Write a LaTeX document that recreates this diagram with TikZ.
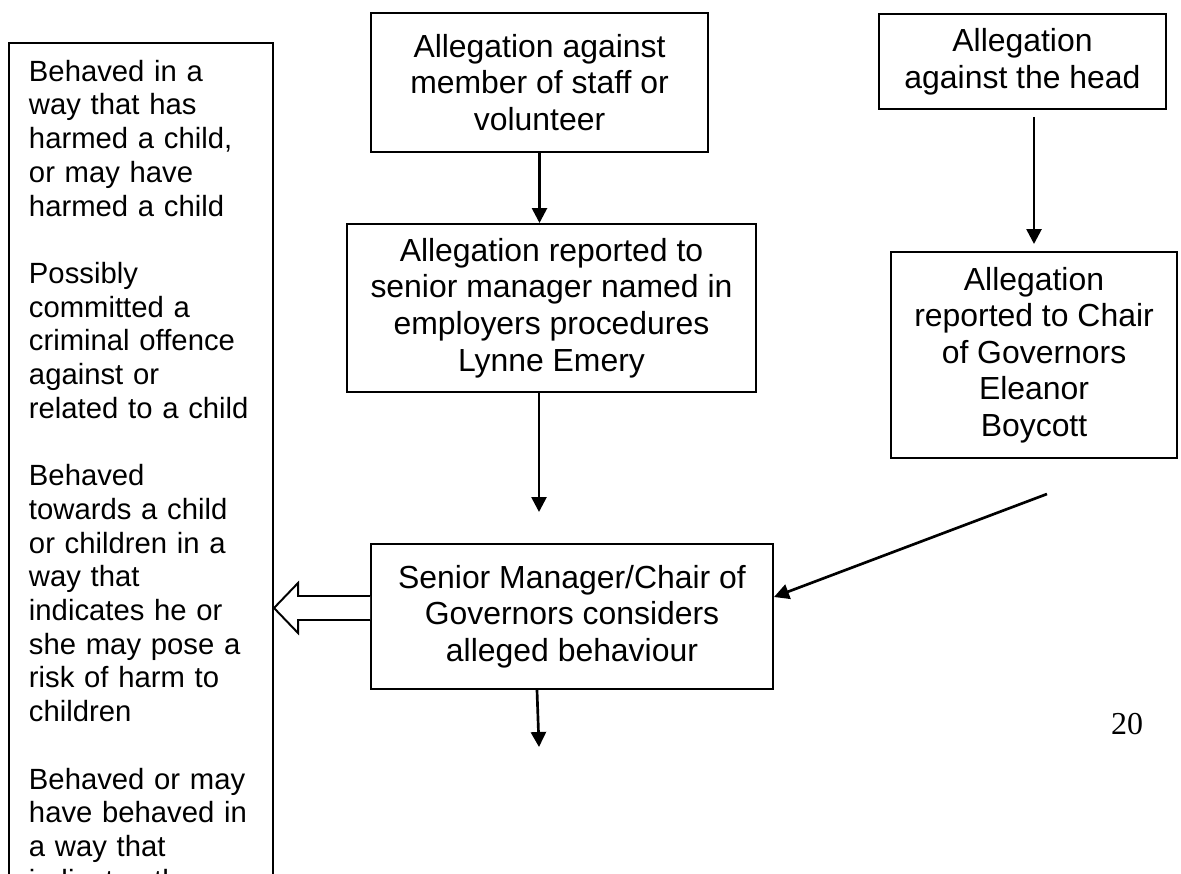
\documentclass[tikz,border=0pt]{standalone}
\usepackage{fontspec}
\setmainfont{Liberation Sans}
\newfontfamily\pageNumFont{Liberation Serif}
\usepackage{tikz}
\usetikzlibrary{math,arrows.meta}

\begin{document}
\begin{tikzpicture}[x=0.025cm, y=-0.025cm]

    \tikzmath{%
        \px=0.025;
    };

    \tikzset{%
        flowBox/.style args={#1/#2}{%
                draw, line width=1.4pt, align=center, inner sep=0pt,
                minimum width=#1*\px*1cm, minimum height=#2*\px*1cm,
                font=\fontsize{22.7}{26}\selectfont
            },
        criteriaBox/.style={%
                draw, line width=1.4pt, anchor=north west, align=left,
                text width=5.6cm, inner xsep=0.5cm, inner ysep=0.425cm,
                font=\fontsize{20.8}{23.97}\selectfont
            },
        flowArrow/.style={%
                line width=1.9pt, -{Triangle[length=0.375cm, width=0.375cm]}
            },
        hollowArrow/.style={line width=1.4pt, line join=miter, fill=white}
    }

    \useasboundingbox (0, 0) rectangle (1181, 873);
    \clip (0, 0) rectangle (1181, 873);

    \node (criteria) [criteriaBox] at (8, 42) {%
        Behaved in a\\ way that has\\ harmed a child,\\ or may have\\ harmed a child\\[\baselineskip]
        Possibly\\ committed a\\ criminal offence\\ against or\\ related to a child\\[\baselineskip]
        Behaved\\ towards a child\\ or children in a\\ way that\\ indicates he or\\ she may pose a\\ risk of harm to\\ children\\[\baselineskip]
        Behaved or may\\ have behaved in\\ a way that\\ indicates they
    };

    \node (allegStaff) [flowBox=337/139] at (539.5, 82.5) {Allegation against\\ member of staff or\\ volunteer};
    \node (allegHead) [flowBox=287/95] at (1022.5, 61.5) {Allegation\\ against the head};
    \node (reportSenior) [flowBox=409/168] at (551.5, 308) {Allegation reported to\\ senior manager named in\\ employers procedures\\ Lynne Emery};
    \node (reportChair) [flowBox=286/206] at (1034, 355) {Allegation\\ reported to Chair\\ of Governors\\ Eleanor\\ Boycott};
    \node (considers) [flowBox=402/145] at (572, 616.5) {Senior Manager/Chair of\\ Governors considers\\ alleged behaviour};
    \node (pageNum) [anchor=base, font=\pageNumFont\fontsize{22.7}{26}\selectfont] at (1127, 734) {20};

    \coordinate (seniorOut) at (539, 512);
    \coordinate (chairOut) at (1047, 494);
    \coordinate (nextStep) at (539, 747);

    \draw[flowArrow] (allegStaff.south) -- (allegStaff.south |- reportSenior.north);
    \draw[flowArrow] (reportSenior.south -| seniorOut) -- (seniorOut);
    \draw[flowArrow, shorten <=0.175cm, shorten >=0.175cm] (reportChair.north |- allegHead.south) -- (reportChair.north);
    \draw[flowArrow] (chairOut) -- ([yshift=0.4875cm]considers.east);
    \draw[flowArrow] ([xshift=-0.875cm]considers.south) -- (nextStep);

    \draw[hollowArrow] ([yshift=0.5125cm]considers.west) -- ++(-72, 0) -- ++(0, -13) -- ++(-24, 25) -- ++(24, 25) -- ++(0, -13) -- ++(72, 0);

\end{tikzpicture}
\end{document}
